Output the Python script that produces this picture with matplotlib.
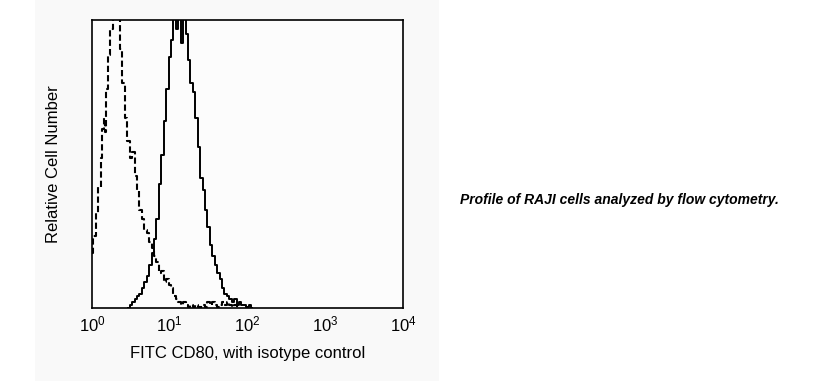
import numpy as np
import matplotlib
matplotlib.use("Agg")
import matplotlib.pyplot as plt
from matplotlib.patches import Rectangle

plt.rcParams['font.family'] = ['Liberation Sans', 'DejaVu Sans']

# histogram channels: 64 channels per decade, 256 over 10^0..10^4
CHANNELS_PER_DECADE = 64

# isotype control (dashed), relative counts, 0-100 (peak clipped at top)
iso_channels = [0, 2, 4, 6, 8, 9, 10, 11, 12, 14, 16, 18, 20, 22, 24, 26, 28,
                30, 32, 34, 36, 38, 40, 42, 44, 46, 48, 50, 52, 54, 56, 58,
                60, 62, 64, 66, 68, 70, 72, 74, 76, 78, 80, 82, 84, 86, 88,
                90, 92, 94, 96, 98, 100, 102, 104, 106, 108, 110, 112, 114,
                116, 118, 120]
iso_counts = [19, 25, 33, 42, 52, 62, 66, 61, 76, 88, 97, 105, 103, 104, 90,
              78, 66, 58, 52, 54, 46, 41, 34, 31, 27, 26, 23, 21, 18, 16, 12,
              13, 9, 10, 8, 7, 4, 3, 2, 1, 2, 1, 0.5, 1, 0.5, 1, 0.5, 0.5, 1,
              0.5, 2, 1, 2, 1, 0.5, 1, 2, 1, 2, 1, 0.5, 1, 0]

# FITC CD80 (solid)
cd80_channels = [30, 32, 34, 36, 38, 40, 42, 44, 46, 48, 50, 52, 54, 56, 58,
                 60, 62, 64, 66, 68, 70, 72, 74, 76, 78, 80, 82, 84, 86, 88,
                 90, 92, 94, 96, 98, 100, 102, 104, 106, 108, 110, 112, 114,
                 116, 118, 120, 122, 124, 126, 128, 130, 132]
cd80_counts = [0, 1, 2, 3, 4, 5, 7, 9, 11, 15, 19, 24, 31, 43, 53, 65, 76,
               87, 93, 101, 97, 104, 92, 103, 95, 86, 78, 75, 66, 56, 45, 41,
               34, 28, 22, 18, 15, 12, 10, 7, 5, 4, 3, 2, 3, 1, 2, 1, 1, 0.5,
               1, 0]

x_ticks = [1, 10, 100, 1000, 10000]
x_tick_labels = [r'$\mathregular{10^{0}}$', r'$\mathregular{10^{1}}$',
                 r'$\mathregular{10^{2}}$', r'$\mathregular{10^{3}}$',
                 r'$\mathregular{10^{4}}$']

iso_x = 10 ** (np.array(iso_channels) / CHANNELS_PER_DECADE)
cd80_x = 10 ** (np.array(cd80_channels) / CHANNELS_PER_DECADE)

fig = plt.figure(figsize=(8.25, 3.81), dpi=100)
fig.patches.append(Rectangle((35 / 825, 0), (439 - 35) / 825, 1,
                             transform=fig.transFigure, facecolor='#f9f9f9',
                             edgecolor='none', zorder=-10))

ax = fig.add_axes([92 / 825, 1 - 308 / 381, 311 / 825, 288 / 381])
ax.set_facecolor('#fcfcfc')

ax.step(iso_x, iso_counts, where='mid', color='black', lw=1.5,
        linestyle=(0, (3, 1.5)))
ax.step(cd80_x, cd80_counts, where='mid', color='black', lw=1.4)

ax.set_xscale('log')
ax.set_xlim(1, 10000)
ax.set_ylim(0, 100)
ax.set_xticks(x_ticks)
ax.set_xticklabels(x_tick_labels, fontsize=12)
ax.minorticks_off()
ax.set_yticks([])
ax.tick_params(axis='x', length=0, pad=5)
for s in ax.spines.values():
    s.set_linewidth(1.2)

ax.set_xlabel('FITC CD80, with isotype control', fontsize=12, labelpad=8)
ax.set_ylabel('Relative Cell Number', fontsize=12, labelpad=22)

fig.text(619 / 825, 1 - 200 / 381,
         'Profile of RAJI cells analyzed by flow cytometry.',
         fontsize=10, fontweight='bold', fontstyle='italic',
         ha='center', va='center')

fig.savefig('out.png', dpi=100)
